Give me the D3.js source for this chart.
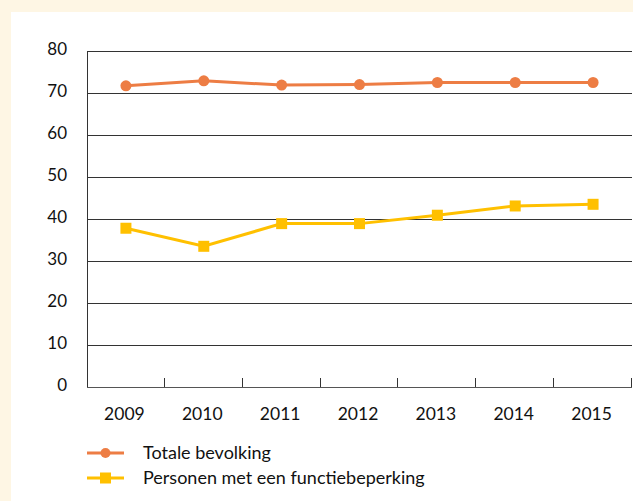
<!DOCTYPE html>
<html><head><meta charset="utf-8">
<script src="https://cdn.jsdelivr.net/npm/d3@7"></script>
<style>
html,body{margin:0;padding:0;background:#FEF6E4;}
svg{display:block;}
text{font-family:Lato, "Open Sans", sans-serif;fill:#111;}
</style></head>
<body>
<svg id="c" width="633" height="501"></svg>
<script>
const years = ["2009","2010","2011","2012","2013","2014","2015"];
const totaleBevolking = [71.7, 72.9, 71.9, 72.0, 72.5, 72.5, 72.5];
const functiebeperking = [37.8, 33.5, 38.9, 38.9, 40.9, 43.1, 43.5];
const yTicks = [0,10,20,30,40,50,60,70,80];
const seriesNames = ["Totale bevolking","Personen met een functiebeperking"];
const colors = ["#ED7D44","#FFC000"];

const svg = d3.select("#c");
svg.append("rect").attr("x",11).attr("y",12).attr("width",622).attr("height",489).attr("fill","#fff");

const x = d3.scaleBand().domain(years).range([87,632]);
const y = d3.scaleLinear().domain([0,80]).range([387,51]);

// gridlines
svg.append("g").selectAll("line").data(yTicks.filter(d=>d>0)).join("line")
  .attr("x1",87).attr("x2",632).attr("y1",d=>Math.round(y(d))+0.5).attr("y2",d=>Math.round(y(d))+0.5)
  .attr("stroke","#333").attr("stroke-width",1);

// y axis labels
svg.append("g").selectAll("text").data(yTicks).join("text")
  .attr("x",67).attr("y",d=>y(d)+3.5).attr("text-anchor","end").attr("font-size",17).text(d=>d);
svg.append("line").attr("x1",87.5).attr("x2",87.5).attr("y1",51).attr("y2",387).attr("stroke","#333");

// x axis
const gx = svg.append("g").attr("transform","translate(0,387)");
gx.append("line").attr("x1",87).attr("x2",632).attr("y1",0.5).attr("y2",0.5).attr("stroke","#555");
gx.selectAll("line.tk").data(years).join("line").attr("class","tk")
  .attr("x1",d=>Math.round(x(d)+x.bandwidth())-0.5).attr("x2",d=>Math.round(x(d)+x.bandwidth())-0.5)
  .attr("y1",0).attr("y2",-9).attr("stroke","#333");
gx.selectAll("text").data(years).join("text")
  .attr("x",d=>x(d)+x.bandwidth()/2-1.5).attr("y",33).attr("text-anchor","middle").attr("font-size",17.5).text(d=>d);

const cx = d => x(d)+x.bandwidth()/2;
const line = d3.line().x((d,i)=>cx(years[i])).y(d=>y(d));

svg.append("path").datum(functiebeperking).attr("d",line).attr("fill","none").attr("stroke",colors[1]).attr("stroke-width",3);
svg.append("g").selectAll("rect").data(functiebeperking).join("rect")
  .attr("x",(d,i)=>cx(years[i])-5.5).attr("y",d=>y(d)-5.5).attr("width",11).attr("height",11).attr("fill",colors[1]);

svg.append("path").datum(totaleBevolking).attr("d",line).attr("fill","none").attr("stroke",colors[0]).attr("stroke-width",3);
svg.append("g").selectAll("circle").data(totaleBevolking).join("circle")
  .attr("cx",(d,i)=>cx(years[i])).attr("cy",d=>y(d)).attr("r",5.5).attr("fill",colors[0]);

// legend
const lg = svg.append("g");
seriesNames.forEach((n,i)=>{
  const yy = 453 + i*25;
  lg.append("line").attr("x1",87).attr("x2",124).attr("y1",yy).attr("y2",yy).attr("stroke",colors[i]).attr("stroke-width",3);
  if(i===0) lg.append("circle").attr("cx",105.5).attr("cy",yy).attr("r",5).attr("fill",colors[0]);
  else lg.append("rect").attr("x",100).attr("y",yy-5.5).attr("width",11).attr("height",11).attr("fill",colors[1]);
  lg.append("text").attr("x",143).attr("y",yy+6).attr("font-size",18).text(n);
});
</script>
</body></html>
